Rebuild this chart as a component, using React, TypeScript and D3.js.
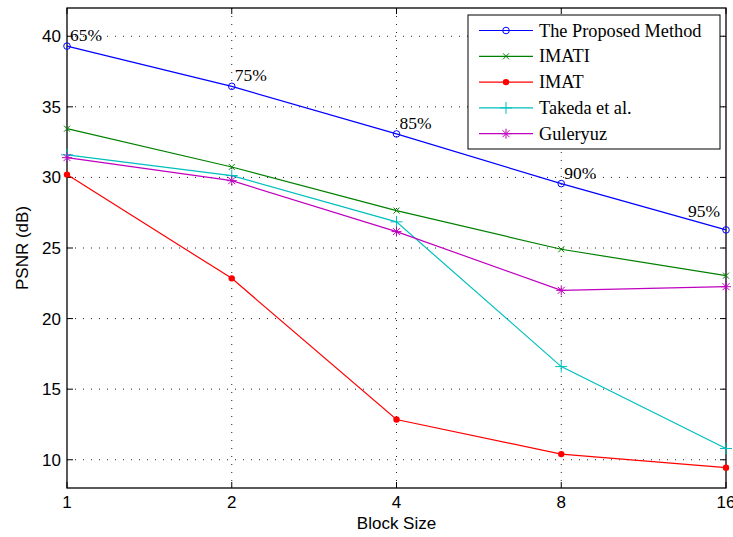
import React from "react";
import * as d3 from "d3";

const blockSizes = [1, 2, 4, 8, 16];
const proposed = [39.3, 36.45, 33.08, 29.56, 26.28];
const imati = [33.45, 30.74, 27.65, 24.91, 23.04];
const imat = [30.2, 22.85, 12.85, 10.4, 9.44];
const takeda = [31.6, 30.13, 26.85, 16.6, 10.8];
const guleryuz = [31.4, 29.77, 26.16, 22.0, 22.26];
const rateLabels = ["65%", "75%", "85%", "90%", "95%"];
const yTicks = [10, 15, 20, 25, 30, 35, 40];

const series = [
  { name: "The Proposed Method", values: proposed, color: "#0000ff", marker: "circle" },
  { name: "IMATI", values: imati, color: "#008000", marker: "x" },
  { name: "IMAT", values: imat, color: "#ff0000", marker: "dot" },
  { name: "Takeda et al.", values: takeda, color: "#00bfbf", marker: "plus" },
  { name: "Guleryuz", values: guleryuz, color: "#bf00bf", marker: "star" },
];

const Marker = ({ type, x, y, color }: { type: string; x: number; y: number; color: string }) => {
  switch (type) {
    case "circle":
      return <circle cx={x} cy={y} r={3.3} fill="none" stroke={color} strokeWidth={1} />;
    case "dot":
      return <circle cx={x} cy={y} r={3.2} fill={color} />;
    case "x":
      return (
        <path d={`M${x - 3},${y - 3}L${x + 3},${y + 3}M${x - 3},${y + 3}L${x + 3},${y - 3}`} stroke={color} strokeWidth={1} />
      );
    case "plus":
      return <path d={`M${x - 6},${y}L${x + 6},${y}M${x},${y - 6}L${x},${y + 6}`} stroke={color} strokeWidth={1} />;
    default:
      return (
        <path
          d={`M${x - 5},${y}L${x + 5},${y}M${x},${y - 5}L${x},${y + 5}M${x - 3.5},${y - 3.5}L${x + 3.5},${y + 3.5}M${x - 3.5},${y + 3.5}L${x + 3.5},${y - 3.5}`}
          stroke={color}
          strokeWidth={1}
        />
      );
  }
};

const App = () => {
  const margin = { left: 67, right: 726, top: 8, bottom: 488 };
  const x = d3.scaleLog().base(2).domain([1, 16]).range([margin.left, margin.right]);
  const y = d3.scaleLinear().domain([8, 42]).range([margin.bottom, margin.top]);
  const line = d3
    .line<number>()
    .x((_, i) => x(blockSizes[i]))
    .y((d) => y(d));

  const axisFont = "Liberation Sans, Arial, sans-serif";
  const serif = "Liberation Serif, Times New Roman, serif";

  // percentage labels next to the proposed-method points
  const labelPos = blockSizes.map((b, i) => {
    const last = i === blockSizes.length - 1;
    return {
      x: x(b) + (last ? -6 : 3),
      y: y(proposed[i]) - (last ? 13 : 5),
      anchor: last ? "end" : "start",
    };
  });

  const legendX = 468;
  const legendY = 15;
  const rowH = 25.8;

  return (
    <svg width={733} height={537} style={{ position: "absolute", left: 0, top: 0, background: "#fff" }}>
      <rect x={0} y={0} width={733} height={537} fill="#fff" />
      {/* grid */}
      {yTicks.map((t) => (
        <line key={"gy" + t} x1={margin.left} x2={margin.right} y1={y(t)} y2={y(t)} stroke="#222" strokeWidth={1} strokeDasharray="1 7" />
      ))}
      {blockSizes.slice(1, -1).map((b) => (
        <line key={"gx" + b} x1={x(b)} x2={x(b)} y1={margin.top} y2={margin.bottom} stroke="#222" strokeWidth={1} strokeDasharray="1 7" />
      ))}
      {/* ticks */}
      {yTicks.map((t) => (
        <g key={"ty" + t}>
          <line x1={margin.left} x2={margin.left + 6} y1={y(t)} y2={y(t)} stroke="#000" />
          <line x1={margin.right - 6} x2={margin.right} y1={y(t)} y2={y(t)} stroke="#000" />
          <text x={margin.left - 6} y={y(t)} dy="0.35em" textAnchor="end" fontFamily={axisFont} fontSize={17}>
            {t}
          </text>
        </g>
      ))}
      {blockSizes.map((b) => (
        <g key={"tx" + b}>
          <line x1={x(b)} x2={x(b)} y1={margin.bottom} y2={margin.bottom - 6} stroke="#000" />
          <line x1={x(b)} x2={x(b)} y1={margin.top} y2={margin.top + 6} stroke="#000" />
          <text x={x(b)} y={margin.bottom + 20} textAnchor="middle" fontFamily={axisFont} fontSize={17}>
            {b}
          </text>
        </g>
      ))}
      <rect
        x={margin.left}
        y={margin.top}
        width={margin.right - margin.left}
        height={margin.bottom - margin.top}
        fill="none"
        stroke="#000"
        strokeWidth={1.3}
      />
      {/* series */}
      {series.map((s) => (
        <g key={s.name}>
          <path d={line(s.values) || ""} fill="none" stroke={s.color} strokeWidth={1.2} />
          {s.values.map((v, i) => (
            <Marker key={i} type={s.marker} x={x(blockSizes[i])} y={y(v)} color={s.color} />
          ))}
        </g>
      ))}
      {rateLabels.map((l, i) => (
        <text key={l} x={labelPos[i].x} y={labelPos[i].y} textAnchor={labelPos[i].anchor} fontFamily={serif} fontSize={17.5}>
          {l}
        </text>
      ))}
      {/* legend */}
      <rect x={legendX} y={legendY} width={252} height={134} fill="#fff" stroke="#000" strokeWidth={1} />
      {series.map((s, i) => {
        const ry = legendY + 15.5 + i * rowH;
        return (
          <g key={"lg" + s.name}>
            <line x1={legendX + 11} x2={legendX + 65} y1={ry} y2={ry} stroke={s.color} strokeWidth={1.2} />
            <Marker type={s.marker} x={legendX + 38} y={ry} color={s.color} />
            <text x={legendX + 71} y={ry} dy="0.33em" fontFamily={serif} fontSize={18.3}>
              {s.name}
            </text>
          </g>
        );
      })}
      {/* axis titles */}
      <text x={(margin.left + margin.right) / 2} y={529} textAnchor="middle" fontFamily={axisFont} fontSize={17}>
        Block Size
      </text>
      <text
        transform={`translate(28,${(margin.top + margin.bottom) / 2}) rotate(-90)`}
        textAnchor="middle"
        fontFamily={axisFont}
        fontSize={17}
      >
        PSNR (dB)
      </text>
    </svg>
  );
};

export default App;
